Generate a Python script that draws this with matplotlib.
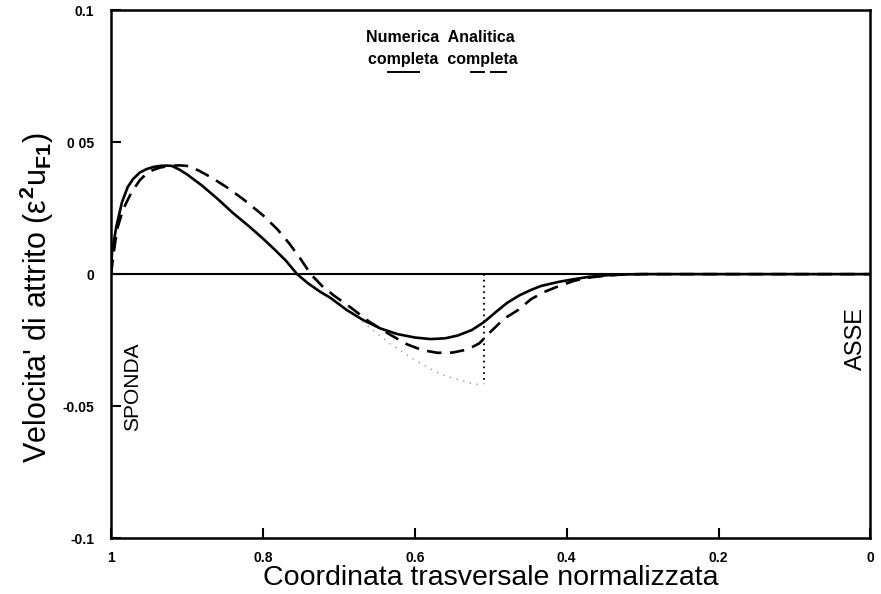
import matplotlib
matplotlib.use('Agg')
import matplotlib.pyplot as plt

plt.rcParams['font.family'] = ['Liberation Sans', 'DejaVu Sans']
plt.rcParams['mathtext.fontset'] = 'custom'
plt.rcParams['mathtext.rm'] = 'Liberation Sans'
plt.rcParams['mathtext.it'] = 'Liberation Sans'
plt.rcParams['mathtext.bf'] = 'Liberation Sans:bold'

# soluzione numerica completa (linea continua)
x_num = [1.0, 0.9987, 0.993, 0.9855, 0.978, 0.971, 0.962, 0.953, 0.944, 0.935,
         0.927, 0.92, 0.91, 0.90, 0.88, 0.86, 0.84, 0.817, 0.80, 0.786,
         0.77, 0.755, 0.74, 0.725, 0.711, 0.69, 0.668, 0.645, 0.623, 0.60,
         0.579, 0.56, 0.544, 0.525, 0.509, 0.493, 0.478, 0.462, 0.447, 0.434,
         0.41, 0.39, 0.37, 0.346, 0.32, 0.30, 0.2, 0.0]
y_num = [0.0, 0.0083, 0.018, 0.0273, 0.033, 0.036, 0.0385, 0.0398, 0.0406, 0.041,
         0.0411, 0.041, 0.0396, 0.0378, 0.0335, 0.0286, 0.0233, 0.0178, 0.0135, 0.0097,
         0.0052, 0.0, -0.0036, -0.0066, -0.0090, -0.0135, -0.0174, -0.0206, -0.0227, -0.0240,
         -0.0246, -0.0243, -0.0233, -0.0212, -0.0182, -0.0143, -0.0108, -0.0080, -0.0060, -0.0045,
         -0.0029, -0.0019, -0.0010, -0.0004, -0.0001, 0.0, 0.0, 0.0]

# soluzione analitica completa (tratteggio)
x_ana = [1.0, 0.996, 0.992, 0.984, 0.973, 0.962, 0.953, 0.945, 0.935, 0.922,
         0.91, 0.90, 0.885, 0.869, 0.848, 0.826, 0.80, 0.781, 0.765, 0.751,
         0.737, 0.722, 0.707, 0.685, 0.66, 0.635, 0.61, 0.59, 0.57, 0.55,
         0.53, 0.515, 0.50, 0.483, 0.464, 0.447, 0.43, 0.41, 0.39, 0.368,
         0.345, 0.325, 0.30, 0.0]
y_ana = [0.0, 0.009, 0.017, 0.0246, 0.031, 0.0356, 0.0381, 0.0394, 0.0404, 0.041,
         0.0412, 0.041, 0.0393, 0.0368, 0.0330, 0.0284, 0.0223, 0.0170, 0.0115, 0.0060,
         0.0, -0.0045, -0.0080, -0.0125, -0.0180, -0.0225, -0.0266, -0.0288, -0.0298, -0.0297,
         -0.0285, -0.0262, -0.0218, -0.0170, -0.0136, -0.0095, -0.0068, -0.0045, -0.0025, -0.0012,
         -0.0005, -0.0001, 0.0, 0.0]

# traccia puntinata sbiadita e verticale
x_dot = [0.669, 0.656, 0.632, 0.603, 0.566, 0.522, 0.509]
y_dot = [-0.018, -0.021, -0.0265, -0.032, -0.038, -0.0417, -0.0417]
x_vert = 0.509

xticks = [1, 0.8, 0.6, 0.4, 0.2, 0]
xtick_labels = ['1', '0.8', '0.6', '0.4', '0.2', '0']
yticks = [0.1, 0.05, 0, -0.05, -0.1]
ytick_labels = ['0.1', '0 05', '0', '-0.05', '-0.1']

fig = plt.figure(figsize=(8.81, 5.94), dpi=100)
ax = fig.add_axes([0.126, 0.094, 0.862, 0.889])

ax.plot(x_num, y_num, color='black', lw=1.9, solid_capstyle='round')
ax.plot(x_ana, y_ana, color='black', lw=1.9, dashes=(5.5, 3.2))
ax.plot(x_dot, y_dot, color='#999999', lw=1.0, ls=(0, (1, 4)))
ax.plot([x_vert, x_vert], [0, y_dot[-1]], color='black', lw=1.3, ls=(0, (1, 2.2)))
ax.axhline(0, color='black', lw=1.5)

ax.set_xlim(1, 0)
ax.set_ylim(-0.1, 0.1)
ax.set_xticks(xticks)
ax.set_xticklabels(xtick_labels, fontsize=10, fontweight='bold')
ax.set_yticks(yticks)
ax.set_yticklabels(ytick_labels, fontsize=10, fontweight='bold')
ax.tick_params(axis='x', direction='in', length=7, width=1.5, pad=9)
ax.tick_params(axis='y', direction='in', length=7, width=1.5, pad=12)
for s in ax.spines.values():
    s.set_linewidth(1.8)

ax.set_xlabel('Coordinata trasversale normalizzata', fontsize=20.5, labelpad=0)
ax.set_ylabel(r"Velocita' di attrito ($\varepsilon^{\mathbf{2}}u_{\mathbf{F1}}$)",
              fontsize=22)
ax.yaxis.set_label_coords(-0.072, 0.455)

# legenda scritta a mano
ax.text(0.566, 0.0895, 'Numerica  Analitica', fontsize=11.5, fontweight='bold',
        ha='center', va='center')
ax.text(0.563, 0.0812, 'completa  completa', fontsize=11.5, fontweight='bold',
        ha='center', va='center')
ax.plot([0.635, 0.595], [0.0766, 0.0766], color='black', lw=1.4)
ax.plot([0.526, 0.509], [0.0766, 0.0766], color='black', lw=1.4)
ax.plot([0.50, 0.48], [0.0766, 0.0766], color='black', lw=1.4)

ax.text(0.971, -0.0428, 'SPONDA', rotation=90, fontsize=15, ha='center', va='center')
ax.text(0.0185, -0.0243, 'ASSE', rotation=90, fontsize=17, ha='center', va='center')

fig.savefig('out.png', dpi=100)
